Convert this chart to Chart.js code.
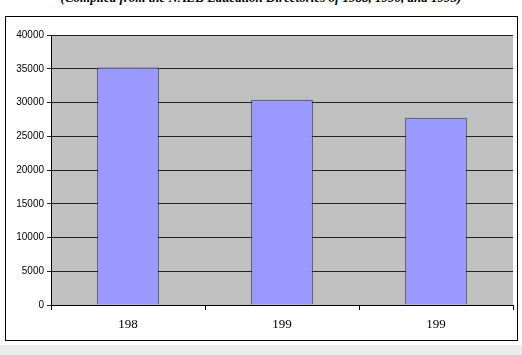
<!DOCTYPE html>
<html>
<head>
<meta charset="utf-8">
<script src="https://cdn.jsdelivr.net/npm/chart.js@4/dist/chart.umd.min.js"></script>
<style>
    body { margin: 0; width: 522px; height: 355px; overflow: hidden; background: #fff; position: relative; }
    #title { position: absolute; top: -10px; left: 0; width: 522px; text-align: center;
        font: italic bold 13px "Liberation Serif", serif; color: #000; white-space: nowrap; }
    #frame { position: absolute; left: 5px; top: 16px; width: 511px; height: 323px; border: 1px solid #000; }
    #strip { position: absolute; left: 0; top: 345px; width: 522px; height: 10px; background: #ececec; }
    canvas { position: absolute; left: 0; top: 0; }
</style>
</head>
<body>
<div id="title">(Compiled from the NAEB Education Directories of 1988, 1990, and 1995)</div>
<div id="frame"></div>
<div id="strip"></div>
<canvas id="myChart" width="522" height="355"></canvas>
<script>
let years = ['198', '199', '199'];
let counts = [35200, 30400, 27750];
let yTicks = [0, 5000, 10000, 15000, 20000, 25000, 30000, 35000, 40000];

// gray plot area like the old excel charts
const plotBg = {
    id: 'plotBg',
    beforeDraw(chart) {
        let a = chart.chartArea;
        let ctx = chart.ctx;
        ctx.save();
        ctx.fillStyle = '#c0c0c0';
        ctx.fillRect(a.left, a.top, a.right - a.left, a.bottom - a.top);
        ctx.restore();
    }
};

const config = {
    type: 'bar',
    data: {
        labels: years,
        datasets: [{
            data: counts,
            backgroundColor: '#9999ff',
            borderColor: '#2e2e5c',
            borderWidth: 1,
            categoryPercentage: 1,
            barPercentage: 0.4
        }]
    },
    options: {
        responsive: false,
        animation: false,
        layout: { padding: { top: 35, right: 9, left: 0, bottom: 0 } },
        plugins: { legend: { display: false }, tooltip: { enabled: false } },
        scales: {
            x: {
                afterFit: s => { s.height = 50; },
                grid: { offset: true, drawOnChartArea: false, color: '#000', tickLength: 5 },
                border: { color: '#000' },
                ticks: { color: '#000', font: { family: 'Liberation Serif', size: 13 }, padding: 7 }
            },
            y: {
                min: 0,
                max: 40000,
                afterFit: s => { s.width = 51; },
                afterBuildTicks: s => { s.ticks = yTicks.map(v => ({ value: v })); },
                grid: { color: '#222', tickLength: 4 },
                border: { color: '#000' },
                ticks: {
                    color: '#000',
                    font: { family: 'Liberation Sans', size: 10 },
                    padding: 3,
                    callback: v => String(v)
                }
            }
        }
    },
    plugins: [plotBg]
};

let myChart = new Chart(document.getElementById('myChart'), config);
</script>
</body>
</html>
